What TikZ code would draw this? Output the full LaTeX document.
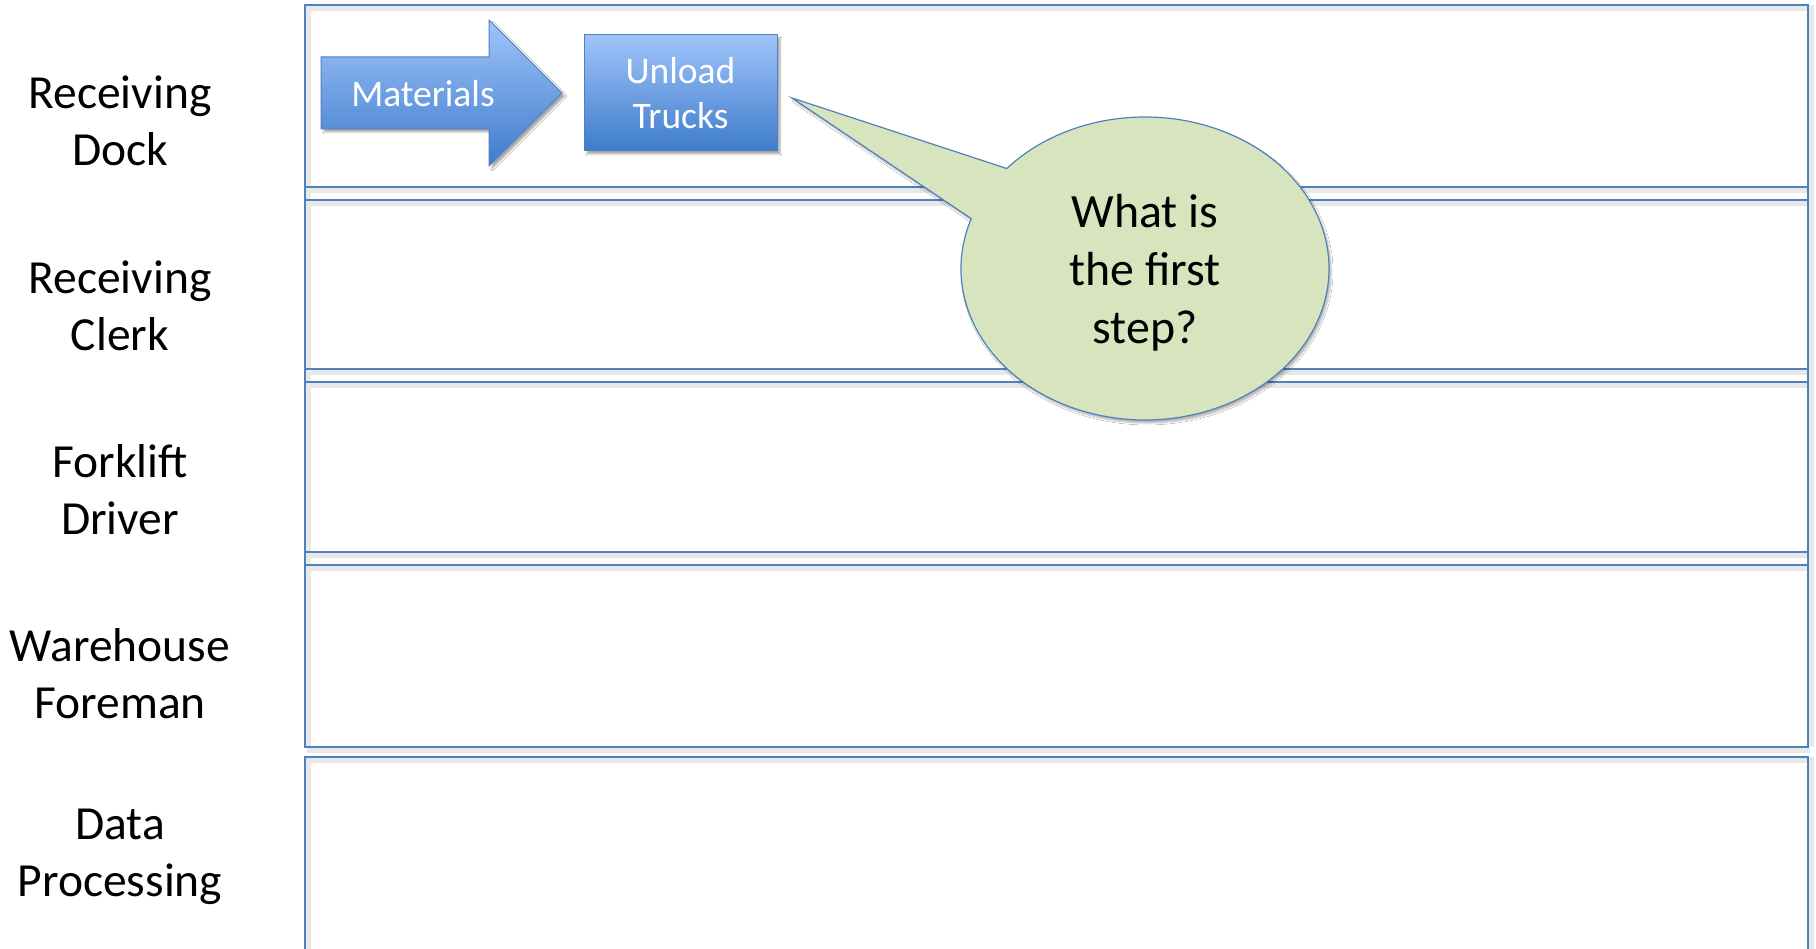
\documentclass[tikz,border=0pt]{standalone}
\usepackage{fontspec}
\setmainfont{Carlito}
\usetikzlibrary{shadows.blur}
\definecolor{laneblue}{RGB}{79,129,189}
\definecolor{gtop}{RGB}{160,196,250}
\definecolor{gbot}{RGB}{62,124,204}
\definecolor{bubfill}{RGB}{215,228,189}
\begin{document}
\begin{tikzpicture}[x=1pt,y=1pt,
  lane/.style={draw=laneblue,line width=1.6pt},
  laneshadow/.style={draw=black!9,line width=5pt},
  lanelabel/.style={font=\fontsize{47.5}{57}\selectfont,align=center,text=black},
  bluefill/.style={draw=laneblue,line width=1pt,top color=gtop,bottom color=gbot,
    blur shadow={shadow xshift=3pt,shadow yshift=-3pt,shadow blur steps=6,shadow opacity=35}},
  bluetext/.style={font=\fontsize{37.5}{45}\selectfont,align=center,text=white},
  callout/.style={draw=laneblue,line width=1.2pt,fill=bubfill,
    blur shadow={shadow xshift=2pt,shadow yshift=-3pt,shadow blur steps=6,shadow opacity=30}},
  callouttext/.style={font=\fontsize{47.8}{58}\selectfont,align=center,text=black}
]
\useasboundingbox (0,0) rectangle (1816,949);
\fill[white] (0,0) rectangle (1816,949);

% lane shadows
\foreach \yy in {762,580,397,202} \draw[laneshadow] (307,\yy-4) -- (1810,\yy-4);
\foreach \yy in {749,567,384,944} \draw[laneshadow] (307,\yy-4) -- (1810,\yy-4);
\draw[laneshadow] (308,944) -- (308,202);
\draw[laneshadow] (1811,944) -- (1811,202);
\draw[laneshadow] (308,192) -- (308,-20);
\draw[laneshadow] (1811,192) -- (1811,-20);
\draw[laneshadow] (307,188) -- (1810,188);

% lanes 1-4
\draw[lane] (305,944) rectangle (1808,202);
\foreach \yy in {762,749,580,567,397,384} \draw[lane] (305,\yy) -- (1808,\yy);
% lane 5
\draw[lane] (305,-20) -- (305,192) -- (1808,192) -- (1808,-20);

% lane labels
\node[lanelabel] (l1) at (120,828) {Receiving\\Dock};
\node[lanelabel] (l2) at (120,643) {Receiving\\Clerk};
\node[lanelabel] (l3) at (120,459) {Forklift\\Driver};
\node[lanelabel] (l4) at (120,275) {Warehouse\\Foreman};
\node[lanelabel] (l5) at (120,92) {Data\\Processing};

% Materials arrow
\draw[bluefill] (321,892) -- (489,892) -- (489,929) -- (562,856) -- (489,783) -- (489,820) -- (321,820) -- cycle;
\node[bluetext] (mat) at (423,855) {Materials};

% Unload Trucks box
\node[bluefill,bluetext,minimum width=193pt,minimum height=116pt,inner sep=0pt] (unload) at (680.5,856) {Unload\\Trucks};

% callout
\coordinate (tip) at (792,851);
\coordinate (pA) at ([shift={(1145,680.5)}]138.7:184 and 151.5);
\coordinate (pB) at ([shift={(1145,680.5)}]160.8:184 and 151.5);
\path[callout] (pA) -- (tip) -- (pB) arc[start angle=160.8,end angle=498.7,x radius=184,y radius=151.5] -- cycle;
\node[callouttext] (q) at (1145,676) {What is\\the first\\step?};
\end{tikzpicture}
\end{document}
